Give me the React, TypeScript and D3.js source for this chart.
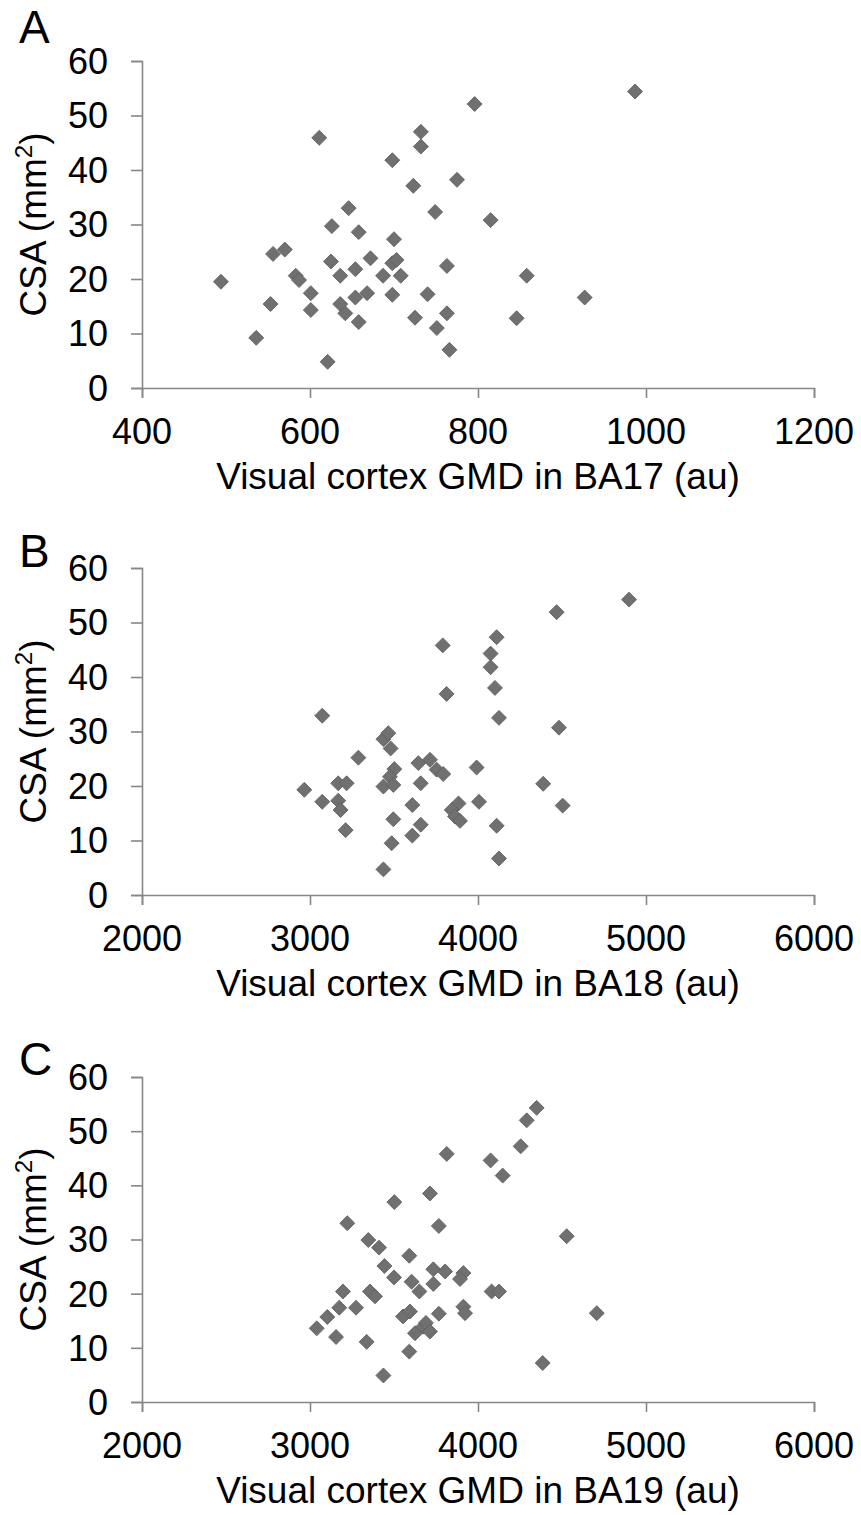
import React, { useRef, useEffect } from "react";
import * as d3 from "d3";

// CSA (mm2) against visual cortex GMD, one array of [gmd, csa] per region
const ba17: [number, number][] = [
  [494, 19.5], [536, 9.2], [556, 24.6], [553, 15.4], [570, 25.4],
  [583, 20.6], [587, 19.8], [601, 17.4], [601, 14.3], [611, 45.9],
  [621, 4.8], [625, 23.2], [626, 29.7], [636, 20.6], [636, 15.4],
  [642, 13.7], [646, 33.0], [654, 21.8], [654, 16.6], [658, 28.6],
  [658, 12.1], [668, 17.4], [672, 23.8], [687, 20.6], [698, 41.8],
  [700, 27.3], [698, 22.9], [703, 23.5], [698, 17.1], [708, 20.6],
  [723, 37.1], [725, 12.9], [732, 47.0], [732, 44.3], [796, 52.1],
  [987, 54.4], [775, 38.2], [749, 32.3], [815, 30.8], [763, 22.4],
  [858, 20.6], [740, 17.2], [927, 16.6], [763, 13.7], [751, 11.0],
  [846, 12.8], [766, 7.0],
];

const ba18: [number, number][] = [
  [2966, 19.3], [3073, 32.9], [3073, 17.1], [3168, 20.5], [3218, 20.5],
  [3168, 17.3], [3182, 15.6], [3212, 11.9], [3288, 25.2], [3437, 28.6],
  [3466, 29.7], [3480, 26.9], [3437, 19.9], [3502, 23.1], [3476, 21.7],
  [3496, 20.2], [3496, 13.9], [3486, 9.5], [3437, 4.7], [3609, 16.5],
  [3609, 10.9], [3659, 12.9], [3659, 20.5], [3645, 24.2], [3714, 24.8],
  [4899, 54.2], [4468, 51.9], [4111, 47.3], [3790, 45.8], [4075, 44.3],
  [4075, 41.8], [3813, 36.9], [4101, 38.0], [4125, 32.5], [4482, 30.7],
  [3754, 23.0], [3793, 22.2], [3992, 23.4], [4388, 20.4], [3884, 16.8],
  [3844, 15.6], [3863, 14.4], [3893, 13.6], [4006, 17.1], [4504, 16.4],
  [4111, 12.7], [4125, 6.7],
];

const ba19: [number, number][] = [
  [3040, 13.6], [3103, 15.7], [3155, 12.0], [3174, 17.4], [3196, 20.4],
  [3222, 33.0], [3274, 17.4], [3337, 11.1], [3347, 29.9], [3357, 20.4],
  [3387, 19.5], [3411, 28.5], [3437, 4.9], [3443, 25.1], [3502, 36.9],
  [3500, 23.0], [3554, 15.8], [3595, 16.7], [3591, 27.0], [3591, 9.3],
  [3605, 22.2], [3651, 20.4], [3625, 12.7], [3674, 13.9], [3690, 14.6],
  [4349, 54.3], [4290, 52.0], [4254, 47.2], [3814, 45.8], [4075, 44.6],
  [4147, 41.8], [3714, 38.5], [3767, 32.5], [4528, 30.6], [3734, 24.5],
  [3804, 24.1], [3913, 23.8], [3893, 22.7], [3734, 21.8], [4081, 20.4],
  [4125, 20.4], [3767, 16.3], [3913, 17.6], [3923, 16.4], [4707, 16.4],
  [3714, 13.0], [4385, 7.2],
];

const yTicks = [0, 10, 20, 30, 40, 50, 60];
const xTicks17 = [400, 600, 800, 1000, 1200];
const xTicks1819 = [2000, 3000, 4000, 5000, 6000];

const panels = [
  { letter: "A", region: "BA17", data: ba17, xTicks: xTicks17, top: 61, bottom: 388, letterY: 43 },
  { letter: "B", region: "BA18", data: ba18, xTicks: xTicks1819, top: 568, bottom: 895, letterY: 567 },
  { letter: "C", region: "BA19", data: ba19, xTicks: xTicks1819, top: 1077, bottom: 1402, letterY: 1075 },
];

const W = 861;
const H = 1515;
const left = 142;
const right = 814;
const axisColor = "#878787";
const font = "'Liberation Sans', Arial, sans-serif";

export default function App() {
  const svgRef = useRef<SVGSVGElement>(null);

  useEffect(() => {
    document.body.style.margin = "0";
    const svg = d3.select(svgRef.current);
    svg.selectAll("*").remove();

    const diamond = d3.symbol(d3.symbolSquare, 112)();

    panels.forEach((p) => {
      const x = d3
        .scaleLinear()
        .domain([p.xTicks[0], p.xTicks[p.xTicks.length - 1]])
        .range([left, right]);
      const y = d3.scaleLinear().domain([0, 60]).range([p.bottom, p.top]);

      const g = svg.append("g");

      // axes
      const yAxis = g
        .append("g")
        .attr("transform", `translate(${left},0)`)
        .call(d3.axisLeft(y).tickValues(yTicks).tickSize(11).tickSizeOuter(11).tickFormat(() => ""));
      const xAxis = g
        .append("g")
        .attr("transform", `translate(0,${p.bottom})`)
        .call(d3.axisBottom(x).tickValues(p.xTicks).tickSize(10).tickSizeOuter(10).tickFormat(() => ""));
      [yAxis, xAxis].forEach((a) => {
        a.selectAll("path,line").attr("stroke", axisColor).attr("stroke-width", 1.6);
      });

      // tick labels
      g.append("g")
        .selectAll("text")
        .data(yTicks)
        .join("text")
        .attr("x", 108)
        .attr("y", (d) => y(d))
        .attr("dy", "0.36em")
        .attr("text-anchor", "end")
        .attr("font-family", font)
        .attr("font-size", 36)
        .text((d) => d);

      g.append("g")
        .selectAll("text")
        .data(p.xTicks)
        .join("text")
        .attr("x", (d) => x(d))
        .attr("y", p.bottom + 56)
        .attr("text-anchor", "middle")
        .attr("font-family", font)
        .attr("font-size", 36)
        .text((d) => d);

      // axis titles
      g.append("text")
        .attr("x", (left + right) / 2)
        .attr("y", p.bottom + 101)
        .attr("text-anchor", "middle")
        .attr("font-family", font)
        .attr("font-size", 37)
        .text(`Visual cortex GMD in ${p.region} (au)`);

      const yt = g
        .append("text")
        .attr("transform", `translate(46,${(p.top + p.bottom) / 2}) rotate(-90)`)
        .attr("text-anchor", "middle")
        .attr("font-family", font)
        .attr("font-size", 37);
      yt.append("tspan").text("CSA (mm");
      yt.append("tspan").attr("font-size", 24).attr("dy", -14).text("2");
      yt.append("tspan").attr("dy", 14).text(")");

      // panel letter
      g.append("text")
        .attr("x", 19)
        .attr("y", p.letterY)
        .attr("font-family", font)
        .attr("font-size", 46)
        .text(p.letter);

      // points
      g.append("g")
        .selectAll("path")
        .data(p.data)
        .join("path")
        .attr("d", diamond)
        .attr("transform", (d) => `translate(${x(d[0])},${y(d[1])}) rotate(45)`)
        .attr("fill", "#707070")
        .attr("stroke", "#5e5e5e")
        .attr("stroke-width", 0.8);
    });
  }, []);

  return <svg ref={svgRef} width={W} height={H} style={{ display: "block", background: "#fff" }} />;
}
